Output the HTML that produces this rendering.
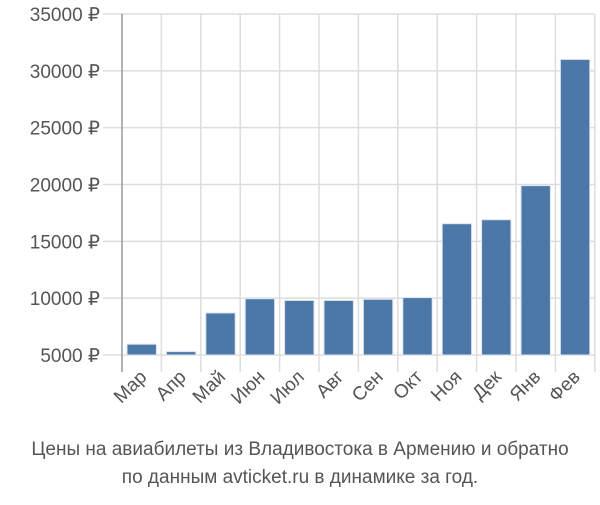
<!DOCTYPE html>
<html><head><meta charset="utf-8"><style>
body{margin:0;background:#fff;width:600px;height:500px;overflow:hidden;font-family:"Liberation Sans",sans-serif}
</style></head><body>
<svg width="600" height="500">
<g id="grid"></g>
<g id="bars"></g>
<g id="labels"></g>
<line x1="122" y1="14" x2="122" y2="372" stroke="#999" stroke-width="1.5"/>
<text x="300" y="455" text-anchor="middle" font-size="19" fill="#555">Цены на авиабилеты из Владивостока в Армению и обратно</text>
<text x="300" y="483" text-anchor="middle" font-size="19" fill="#555">по данным avticket.ru в динамике за год.</text>
</svg>
<script>
const categories=["Мар","Апр","Май","Июн","Июл","Авг","Сен","Окт","Ноя","Дек","Янв","Фев"];
const values=[5950,5300,8700,9950,9800,9800,9900,10050,16550,16900,19900,31000];
const ticks=[5000,10000,15000,20000,25000,30000,35000];
const ns="http://www.w3.org/2000/svg";
const x0=122,step=39.4,yMin=5000,yMax=35000,yTop=14,yBot=355;
const y=v=>yBot-(v-yMin)/(yMax-yMin)*(yBot-yTop);
const g=document.getElementById('grid'),b=document.getElementById('bars'),l=document.getElementById('labels');
function mk(t,a){const e=document.createElementNS(ns,t);for(const k in a)e.setAttribute(k,a[k]);return e;}
ticks.forEach(t=>{
  const ln=mk('line',{x1:103,x2:595,y1:y(t),y2:y(t),stroke:'#ddd','stroke-width':1.5});
  
  
  g.appendChild(ln);
  const tx=mk('text',{x:100,y:y(t)+7,'text-anchor':'end','font-size':19,fill:'#555'});
  tx.textContent=t+' ₽';
  
  
  l.appendChild(tx);
});
for(let i=1;i<=categories.length;i++){
  const ln=mk('line',{x1:x0+i*step,x2:x0+i*step,y1:yTop,y2:372,stroke:'#ddd','stroke-width':1.5});
  
  
  g.appendChild(ln);
}
categories.forEach((c,i)=>{
  const bx=x0+i*step+5,bw=step-10;
  const r=mk('rect',{x:bx,y:y(values[i]),width:bw,height:yBot-y(values[i]),fill:'#4c78a8',stroke:'#dbe4ef','stroke-width':1});
  
  
  b.appendChild(r);
  const cx=x0+i*step+step/2+6;
  const tx=mk('text',{x:cx,y:378,'text-anchor':'end','font-size':19,fill:'#555',transform:`rotate(-45 ${cx} 378)`});
  tx.textContent=c;
  
  
  l.appendChild(tx);
});
</script>
</body></html>
